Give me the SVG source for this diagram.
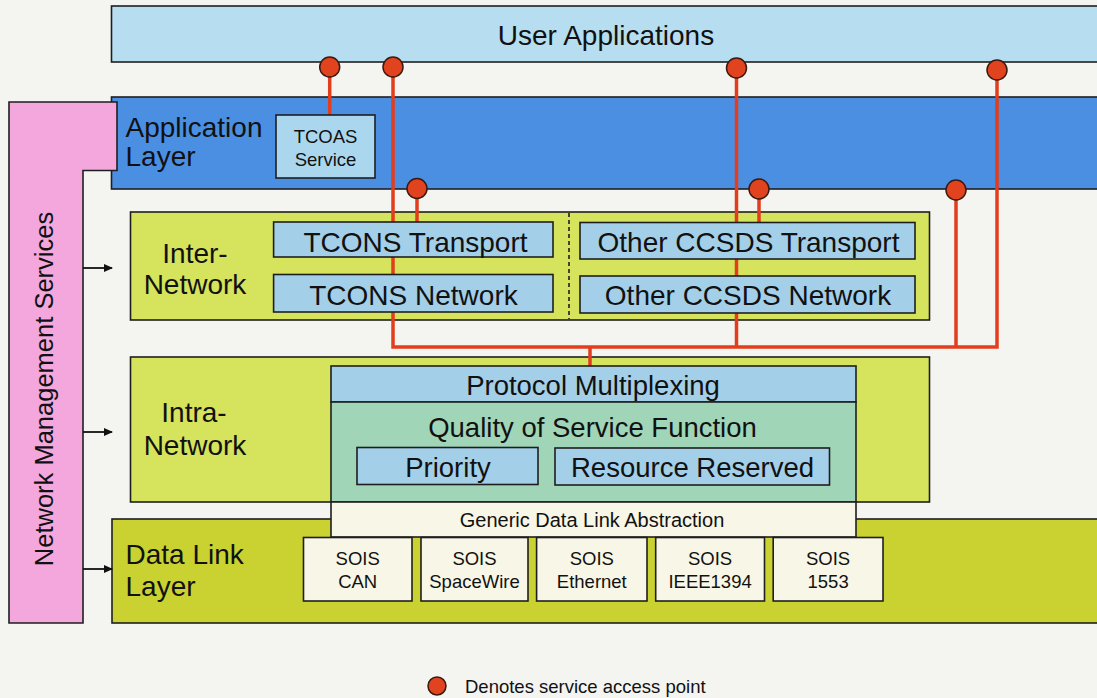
<svg xmlns="http://www.w3.org/2000/svg" width="1097" height="698" viewBox="0 0 1097 698">
<defs>
<style>
.bx{stroke:#1e1e1e;stroke-width:1.6}
.t{font-family:"Liberation Sans",Arial,sans-serif;fill:#111}
.c{text-anchor:middle}
.red{stroke:#e23d1c;stroke-width:3.5;fill:none}
.sap{fill:#e2431f;stroke:#3a1a10;stroke-width:1.5}
.lb{fill:#a3cfe9}
.cream{fill:#f8f6e6}
.arr{stroke:#111;stroke-width:1.8;marker-end:url(#ah)}
</style>
<marker id="ah" markerWidth="9" markerHeight="9" refX="8" refY="4.5" orient="auto" markerUnits="userSpaceOnUse">
<path d="M0,0.5 L9,4.5 L0,8.5 Z" fill="#111"/>
</marker>
</defs>
<rect x="0" y="0" width="1097" height="698" fill="#f4f4f1"/>

<g id="user-applications">
<rect class="bx" x="111.5" y="6" width="1000" height="56" fill="#b6def0"/>
<text class="t c" x="606" y="45" font-size="28">User Applications</text>
</g>

<g id="application-layer">
<rect class="bx" x="111.5" y="97" width="1000" height="92" fill="#4b8fe3"/>
<text class="t" x="125.5" y="136.5" font-size="28">Application</text>
<text class="t" x="125.5" y="166" font-size="28">Layer</text>
</g>

<g id="network-management">
<path class="bx" d="M9,102 H117 V170.5 H83 V623 H9 Z" fill="#f3a7dd"/>
<text class="t c" transform="translate(53,389) rotate(-90)" font-size="25.5">Network Management Services</text>
</g>

<g id="inter-network">
<rect class="bx" x="130.5" y="212" width="799" height="108" fill="#d5e35d"/>
<text class="t c" x="195" y="263" font-size="28">Inter-</text>
<text class="t c" x="195" y="294" font-size="28">Network</text>
<line x1="569" y1="213" x2="569" y2="319" stroke="#1e1e1e" stroke-width="1.6" stroke-dasharray="4,3"/>
</g>

<g id="data-link-layer">
<rect class="bx" x="112" y="519" width="1000" height="104" fill="#c9d230"/>
<text class="t" x="125.5" y="564" font-size="28">Data Link</text>
<text class="t" x="125.5" y="596" font-size="28">Layer</text>
</g>

<g id="intra-network">
<rect class="bx" x="130.5" y="357" width="799" height="145" fill="#d5e35d"/>
<text class="t c" x="194" y="422" font-size="28">Intra-</text>
<text class="t c" x="195" y="455" font-size="28">Network</text>
</g>

<g id="connectors">
<line class="red" x1="329.7" y1="67" x2="329.7" y2="115"/>
<path class="red" d="M393,67 V347 H997 V70"/>
<line class="red" x1="736.5" y1="67" x2="736.5" y2="347"/>
<line class="red" x1="417" y1="188.5" x2="417" y2="222"/>
<line class="red" x1="759" y1="189" x2="759" y2="222.5"/>
<line class="red" x1="956" y1="190" x2="956" y2="347"/>
<line class="red" x1="590" y1="347" x2="590" y2="366"/>
<circle class="sap" cx="329.7" cy="67" r="10"/>
<circle class="sap" cx="393" cy="67" r="10"/>
<circle class="sap" cx="736.5" cy="68" r="10"/>
<circle class="sap" cx="997" cy="70" r="10"/>
<circle class="sap" cx="417" cy="188.5" r="10"/>
<circle class="sap" cx="759" cy="189" r="10"/>
<circle class="sap" cx="956" cy="190" r="10"/>
<line class="arr" x1="83" y1="268" x2="112" y2="268"/>
<line class="arr" x1="83" y1="432" x2="112" y2="432"/>
<line class="arr" x1="83" y1="569" x2="112" y2="569"/>
</g>

<g id="tcoas">
<rect class="bx" x="276" y="115" width="99" height="63" fill="#abd7ee"/>
<text class="t c" x="325.5" y="143" font-size="18.5">TCOAS</text>
<text class="t c" x="325.5" y="165.5" font-size="18.5">Service</text>
</g>

<g id="tcons-transport">
<rect class="bx lb" x="273.6" y="222" width="279.4" height="35"/>
<text class="t c" x="415.5" y="251.5" font-size="28">TCONS Transport</text>
</g>
<g id="tcons-network">
<rect class="bx lb" x="273.6" y="274.5" width="279.4" height="37.5"/>
<text class="t c" x="413.5" y="305" font-size="28">TCONS Network</text>
</g>
<g id="other-transport">
<rect class="bx lb" x="580" y="222.5" width="335" height="36.5"/>
<text class="t c" x="748.5" y="252" font-size="28">Other CCSDS Transport</text>
</g>
<g id="other-network">
<rect class="bx lb" x="580" y="276" width="335" height="37"/>
<text class="t c" x="748" y="305" font-size="28">Other CCSDS Network</text>
</g>

<g id="protocol-multiplexing">
<rect class="bx lb" x="331" y="366" width="525" height="36"/>
<text class="t c" x="593" y="395" font-size="27.5">Protocol Multiplexing</text>
</g>
<g id="qos">
<rect class="bx" x="331" y="402" width="525" height="100" fill="#a0d5b8"/>
<text class="t c" x="592.5" y="437" font-size="27.5">Quality of Service Function</text>
</g>
<g id="priority">
<rect class="bx lb" x="357" y="447.5" width="181" height="37"/>
<text class="t c" x="448" y="477" font-size="27.5">Priority</text>
</g>
<g id="resource-reserved">
<rect class="bx lb" x="555" y="448" width="274.5" height="37"/>
<text class="t c" x="692.5" y="477" font-size="27.5">Resource Reserved</text>
</g>
<g id="generic-dla">
<rect class="bx cream" x="331" y="502" width="525" height="35"/>
<text class="t c" x="592" y="527" font-size="20">Generic Data Link Abstraction</text>
</g>

<g id="sois-can">
<rect class="bx cream" x="303.5" y="537.5" width="108.5" height="63.5"/>
<text class="t c" x="357.7" y="565" font-size="18.5">SOIS</text>
<text class="t c" x="357.7" y="588" font-size="18.5">CAN</text>
</g>
<g id="sois-spacewire">
<rect class="bx cream" x="421" y="537.5" width="107" height="63.5"/>
<text class="t c" x="474.5" y="565" font-size="18.5">SOIS</text>
<text class="t c" x="474.5" y="588" font-size="18.5">SpaceWire</text>
</g>
<g id="sois-ethernet">
<rect class="bx cream" x="536.6" y="537.5" width="110.4" height="63.5"/>
<text class="t c" x="591.8" y="565" font-size="18.5">SOIS</text>
<text class="t c" x="591.8" y="588" font-size="18.5">Ethernet</text>
</g>
<g id="sois-ieee1394">
<rect class="bx cream" x="655.7" y="537.5" width="108.8" height="63.5"/>
<text class="t c" x="710.1" y="565" font-size="18.5">SOIS</text>
<text class="t c" x="710.1" y="588" font-size="18.5">IEEE1394</text>
</g>
<g id="sois-1553">
<rect class="bx cream" x="773.2" y="537.5" width="109.8" height="63.5"/>
<text class="t c" x="828.1" y="565" font-size="18.5">SOIS</text>
<text class="t c" x="828.1" y="588" font-size="18.5">1553</text>
</g>

<g id="legend">
<circle class="sap" cx="437" cy="686" r="9"/>
<text class="t" x="465" y="693" font-size="18.5">Denotes service access point</text>
</g>
</svg>
